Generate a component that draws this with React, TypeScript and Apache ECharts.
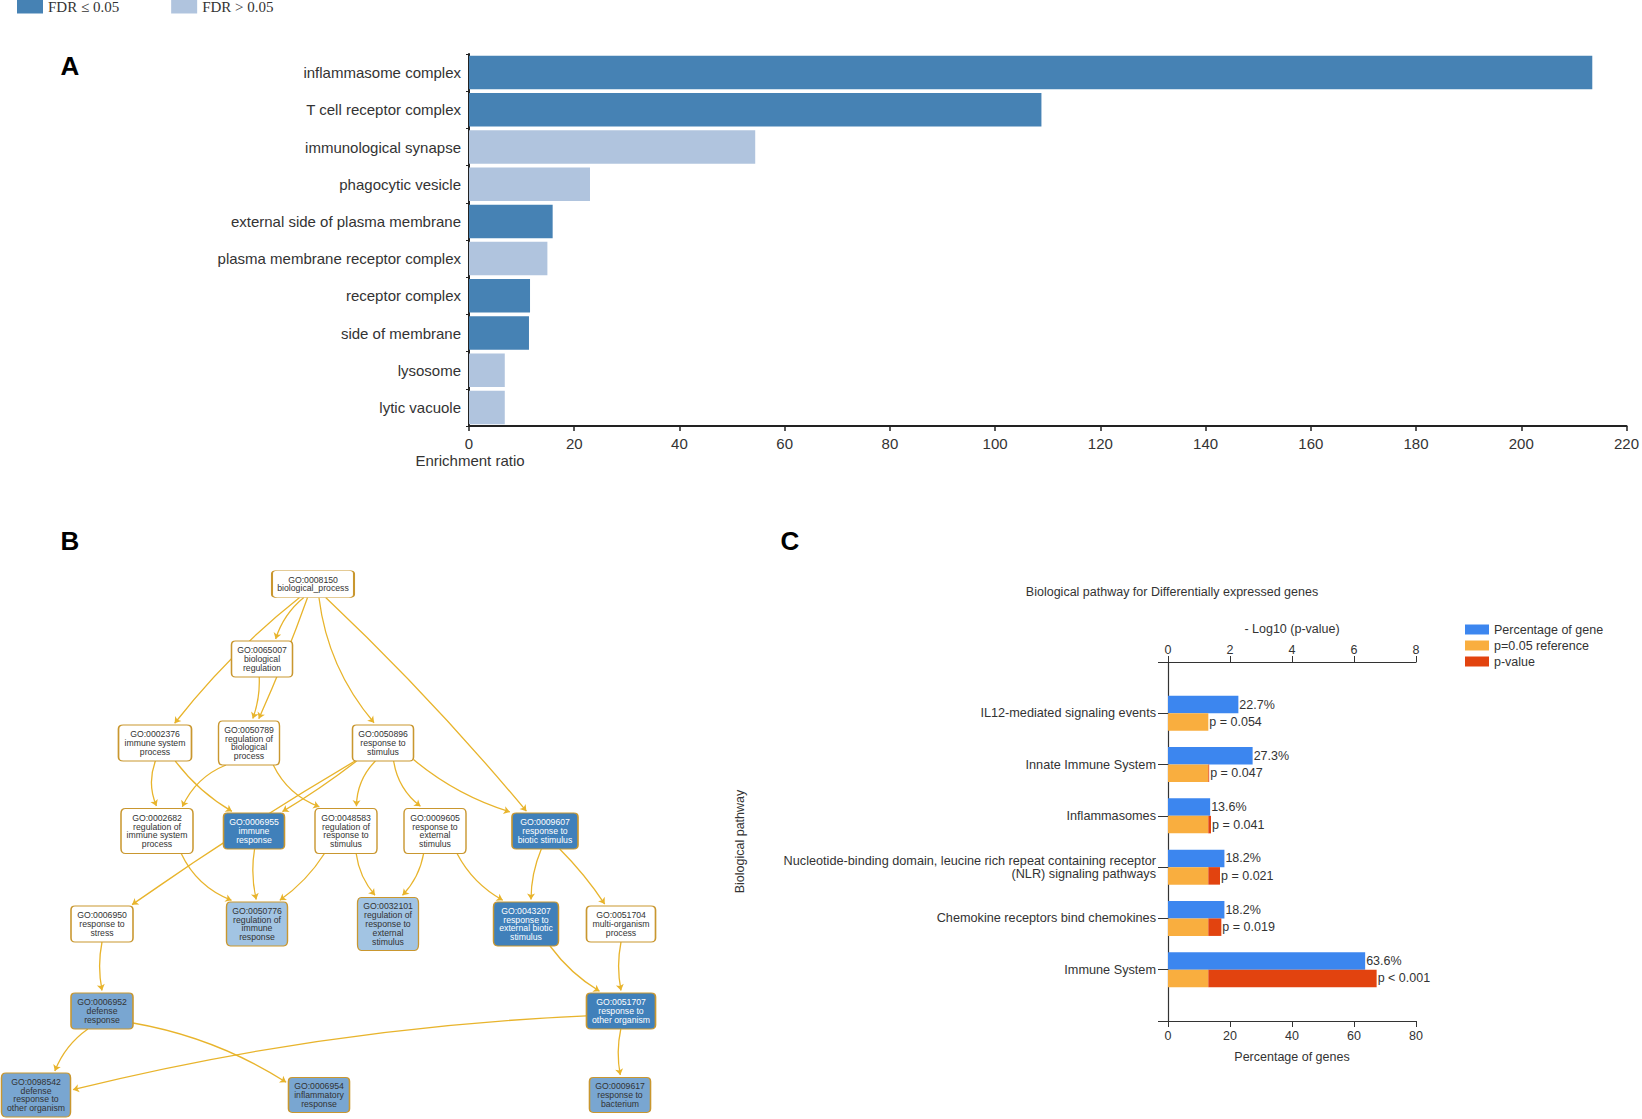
import React, { useEffect, useRef } from 'react';
import * as echarts from 'echarts';

// ---------------- Panel A data ----------------
const goTerms = [
  'inflammasome complex',
  'T cell receptor complex',
  'immunological synapse',
  'phagocytic vesicle',
  'external side of plasma membrane',
  'plasma membrane receptor complex',
  'receptor complex',
  'side of membrane',
  'lysosome',
  'lytic vacuole',
];
const enrichmentRatio = [213.5, 108.8, 54.4, 23.0, 15.9, 14.9, 11.6, 11.4, 6.8, 6.8];
const fdrSignificant = [true, true, false, false, true, false, true, true, false, false];
const enrichmentAxis = { min: 0, max: 220, interval: 20 };

// ---------------- Panel B data (GO DAG, layout units) ----------------
type GoNode = { id: string; label: string; x: number; y: number; w: number; h: number; kind: string };
const goNodes: GoNode[] = [
  { id: 'GO:0008150', label: 'biological_process', x: 313, y: 584, w: 82, h: 27, kind: 'none' },
  { id: 'GO:0065007', label: 'biological\nregulation', x: 262, y: 659, w: 61, h: 36, kind: 'none' },
  { id: 'GO:0002376', label: 'immune system\nprocess', x: 155, y: 743, w: 73, h: 36, kind: 'none' },
  { id: 'GO:0050789', label: 'regulation of\nbiological\nprocess', x: 249, y: 743, w: 61, h: 44, kind: 'none' },
  { id: 'GO:0050896', label: 'response to\nstimulus', x: 383, y: 743, w: 61, h: 36, kind: 'none' },
  { id: 'GO:0002682', label: 'regulation of\nimmune system\nprocess', x: 157, y: 831, w: 72, h: 45, kind: 'none' },
  { id: 'GO:0006955', label: 'immune\nresponse', x: 254, y: 831, w: 61, h: 36, kind: 'dark' },
  { id: 'GO:0048583', label: 'regulation of\nresponse to\nstimulus', x: 346, y: 831, w: 62, h: 45, kind: 'none' },
  { id: 'GO:0009605', label: 'response to\nexternal\nstimulus', x: 435, y: 831, w: 62, h: 45, kind: 'none' },
  { id: 'GO:0009607', label: 'response to\nbiotic stimulus', x: 545, y: 831, w: 66, h: 36, kind: 'dark' },
  { id: 'GO:0006950', label: 'response to\nstress', x: 102, y: 924, w: 62, h: 36, kind: 'none' },
  { id: 'GO:0050776', label: 'regulation of\nimmune\nresponse', x: 257, y: 924, w: 61, h: 44, kind: 'light' },
  { id: 'GO:0032101', label: 'regulation of\nresponse to\nexternal\nstimulus', x: 388, y: 924, w: 61, h: 53, kind: 'light' },
  { id: 'GO:0043207', label: 'response to\nexternal biotic\nstimulus', x: 526, y: 924, w: 65, h: 44, kind: 'dark' },
  { id: 'GO:0051704', label: 'multi-organism\nprocess', x: 621, y: 924, w: 69, h: 36, kind: 'none' },
  { id: 'GO:0006952', label: 'defense\nresponse', x: 102, y: 1011, w: 62, h: 36, kind: 'medium' },
  { id: 'GO:0051707', label: 'response to\nother organism', x: 621, y: 1011, w: 69, h: 36, kind: 'dark' },
  { id: 'GO:0098542', label: 'defense\nresponse to\nother organism', x: 36, y: 1095, w: 69, h: 44, kind: 'medium' },
  { id: 'GO:0006954', label: 'inflammatory\nresponse', x: 319, y: 1095, w: 61, h: 35, kind: 'medium' },
  { id: 'GO:0009617', label: 'response to\nbacterium', x: 620, y: 1095, w: 61, h: 35, kind: 'medium' },
];
// [source, target, curveness]
const goEdges: [string, string, number][] = [
  ['GO:0008150', 'GO:0065007', -0.15],
  ['GO:0008150', 'GO:0050789', 0.02],
  ['GO:0008150', 'GO:0002376', -0.06],
  ['GO:0008150', 'GO:0050896', -0.15],
  ['GO:0008150', 'GO:0009607', 0.03],
  ['GO:0065007', 'GO:0050789', 0.1],
  ['GO:0002376', 'GO:0002682', -0.2],
  ['GO:0002376', 'GO:0006955', -0.1],
  ['GO:0050789', 'GO:0002682', -0.2],
  ['GO:0050789', 'GO:0048583', -0.2],
  ['GO:0050896', 'GO:0006955', 0.03],
  ['GO:0050896', 'GO:0006950', -0.02],
  ['GO:0050896', 'GO:0048583', -0.2],
  ['GO:0050896', 'GO:0009605', -0.2],
  ['GO:0050896', 'GO:0009607', -0.1],
  ['GO:0002682', 'GO:0050776', -0.2],
  ['GO:0006955', 'GO:0050776', -0.1],
  ['GO:0048583', 'GO:0050776', 0.1],
  ['GO:0048583', 'GO:0032101', -0.15],
  ['GO:0009605', 'GO:0032101', 0.15],
  ['GO:0009605', 'GO:0043207', -0.15],
  ['GO:0009607', 'GO:0043207', -0.1],
  ['GO:0009607', 'GO:0051704', 0.05],
  ['GO:0043207', 'GO:0051707', -0.1],
  ['GO:0051704', 'GO:0051707', -0.1],
  ['GO:0006950', 'GO:0006952', -0.1],
  ['GO:0006952', 'GO:0098542', -0.15],
  ['GO:0006952', 'GO:0006954', 0.1],
  ['GO:0051707', 'GO:0098542', -0.05],
  ['GO:0051707', 'GO:0009617', -0.1],
];
const bLayoutX = [0, 660];
const bLayoutY = [560, 1119];

// ---------------- Panel C data ----------------
const pathways = [
  'IL12-mediated signaling events',
  'Innate Immune System',
  'Inflammasomes',
  'Nucleotide-binding domain, leucine rich repeat containing receptor\n(NLR) signaling pathways',
  'Chemokine receptors bind chemokines',
  'Immune System',
];
const geneRatioPct = [22.7, 27.3, 13.6, 18.2, 18.2, 63.6];
const negLog10P = [1.268, 1.328, 1.387, 1.678, 1.721, 6.73];
const pValueText = ['p = 0.054', 'p = 0.047', 'p = 0.041', 'p = 0.021', 'p = 0.019', 'p < 0.001'];
const refNegLog10 = 1.301;
const logAxis = { min: 0, max: 8, interval: 2 };
const pctAxis = { min: 0, max: 80, interval: 20 };

const SANS = "'Liberation Sans', Arial, sans-serif";
const NODE_FILL: Record<string, string> = { none: '#FFFFFF', light: '#A2C4E3', medium: '#79A6D1', dark: '#4080BA' };
const NODE_PATH = 'path://M4,0 H58 Q62,0 62,4 V32 Q62,36 58,36 H4 Q0,36 0,32 V4 Q0,0 4,0 Z';

function buildEdges() {
  const byId: Record<string, GoNode> = {};
  goNodes.forEach((n) => (byId[n.id] = n));
  return goEdges.map(([s, t, c]) => {
    const a = byId[s];
    const b = byId[t];
    const dx = b.x - a.x;
    const dy = b.y - a.y;
    const tOf = (n: GoNode) => Math.min(dx ? n.w / 2 / Math.abs(dx) : Infinity, dy ? n.h / 2 / Math.abs(dy) : Infinity);
    const ta = tOf(a);
    const tb = tOf(b);
    const len = Math.sqrt(dx * dx + dy * dy);
    const shrink = 2.5 / len;
    return {
      coords: [
        [a.x + dx * ta, a.y + dy * ta],
        [b.x - dx * (tb + shrink), b.y - dy * (tb + shrink)],
      ],
      lineStyle: { curveness: c },
    };
  });
}

export default function App() {
  const ref = useRef<HTMLDivElement>(null);
  useEffect(() => {
    document.body.style.margin = '0';
    const chart = echarts.init(ref.current!, null, { renderer: 'svg' });
    const pad = (arr: any[]) => ['-', ...arr, '-'];
    const option: any = {
      animation: false,
      backgroundColor: '#fff',
      textStyle: { fontFamily: SANS },
      legend: [
        {
          data: ['FDR ≤ 0.05', 'FDR > 0.05'],
          left: 17,
          top: -1,
          icon: 'rect',
          itemWidth: 26,
          itemHeight: 14,
          itemGap: 52,
          padding: 0,
          selectedMode: false,
          textStyle: { fontFamily: "'Liberation Serif', 'Times New Roman', serif", fontSize: 15, color: '#333' },
        },
        {
          data: ['Percentage of gene', 'p=0.05 reference', 'p-value'],
          orient: 'vertical',
          left: 1465,
          top: 623,
          icon: 'rect',
          itemWidth: 24,
          itemHeight: 10,
          itemGap: 3,
          padding: 0,
          selectedMode: false,
          textStyle: { fontFamily: SANS, fontSize: 12.5, color: '#333' },
        },
      ],
      grid: [
        { left: 469, top: 54, width: 1159, height: 372 },
        { left: 1168, top: 662, width: 248, height: 359 },
        { left: 0, top: 560, width: 660, height: 559 },
      ],
      xAxis: [
        {
          gridIndex: 0,
          type: 'value',
          ...enrichmentAxis,
          splitLine: { show: false },
          axisLine: { show: true, lineStyle: { color: '#222', width: 2 } },
          axisTick: { show: true, length: 5, lineStyle: { color: '#222', width: 1.5 } },
          axisLabel: { fontSize: 15, color: '#333', margin: 10, fontFamily: SANS },
        },
        {
          gridIndex: 1,
          type: 'value',
          position: 'top',
          ...logAxis,
          name: '- Log10 (p-value)',
          nameLocation: 'middle',
          nameGap: 27,
          nameTextStyle: { fontSize: 12.5, color: '#333', fontFamily: SANS },
          splitLine: { show: false },
          axisLine: { show: true, lineStyle: { color: '#333', width: 1.2 } },
          axisTick: { show: true, length: 6, lineStyle: { color: '#333' } },
          axisLabel: { fontSize: 12.5, color: '#333', margin: 6, fontFamily: SANS },
        },
        {
          gridIndex: 1,
          type: 'value',
          position: 'bottom',
          ...pctAxis,
          name: 'Percentage of genes',
          nameLocation: 'middle',
          nameGap: 29,
          nameTextStyle: { fontSize: 12.5, color: '#333', fontFamily: SANS },
          splitLine: { show: false },
          axisLine: { show: true, lineStyle: { color: '#333', width: 1.2 } },
          axisTick: { show: true, length: 6, lineStyle: { color: '#333' } },
          axisLabel: { fontSize: 12.5, color: '#333', margin: 8, fontFamily: SANS },
        },
        { gridIndex: 2, type: 'value', min: bLayoutX[0], max: bLayoutX[1], show: false },
      ],
      yAxis: [
        {
          gridIndex: 0,
          type: 'category',
          data: goTerms,
          inverse: true,
          axisLine: { show: true, lineStyle: { color: '#222', width: 2 } },
          axisTick: { show: true, length: 3, lineStyle: { color: '#222' } },
          axisLabel: { fontSize: 15, color: '#333', margin: 8, fontFamily: SANS },
        },
        {
          gridIndex: 1,
          type: 'category',
          data: pad(pathways).map((v) => (v === '-' ? '' : v)),
          inverse: true,
          boundaryGap: false,
          name: 'Biological pathway',
          nameLocation: 'middle',
          nameRotate: 90,
          nameGap: 422,
          nameTextStyle: { fontSize: 12.5, color: '#333', fontFamily: SANS },
          axisLine: { show: true, lineStyle: { color: '#333', width: 1.2 } },
          axisTick: { show: true, length: 10, lineStyle: { color: '#333' } },
          axisLabel: { fontSize: 12.7, color: '#333', margin: 12, fontFamily: SANS, lineHeight: 13 },
        },
        { gridIndex: 2, type: 'value', min: bLayoutY[0], max: bLayoutY[1], inverse: true, show: false },
      ],
      series: [
        {
          name: 'FDR ≤ 0.05',
          type: 'bar',
          xAxisIndex: 0,
          yAxisIndex: 0,
          stack: 'fdr',
          barCategoryGap: '10%',
          itemStyle: { color: '#4682B4' },
          data: enrichmentRatio.map((v, i) => (fdrSignificant[i] ? v : '-')),
        },
        {
          name: 'FDR > 0.05',
          type: 'bar',
          xAxisIndex: 0,
          yAxisIndex: 0,
          stack: 'fdr',
          barCategoryGap: '10%',
          itemStyle: { color: '#B0C4DE' },
          data: enrichmentRatio.map((v, i) => (fdrSignificant[i] ? '-' : v)),
        },
        {
          name: 'Percentage of gene',
          type: 'bar',
          xAxisIndex: 2,
          yAxisIndex: 1,
          barWidth: 17.5,
          barGap: '0%',
          itemStyle: { color: '#3C86EF' },
          label: {
            show: true,
            position: 'right',
            distance: 1,
            fontSize: 12.5,
            color: '#333',
            fontFamily: SANS,
            formatter: (p: any) => geneRatioPct[p.dataIndex - 1].toFixed(1) + '%',
          },
          data: pad(geneRatioPct),
        },
        {
          name: 'p=0.05 reference',
          type: 'bar',
          xAxisIndex: 1,
          yAxisIndex: 1,
          stack: 'p',
          barWidth: 17.5,
          barGap: '0%',
          itemStyle: { color: '#F9AE3F' },
          data: pad(pathways.map(() => refNegLog10)),
        },
        {
          name: 'p-value',
          type: 'bar',
          xAxisIndex: 1,
          yAxisIndex: 1,
          stack: 'p',
          barWidth: 17.5,
          barGap: '0%',
          itemStyle: { color: '#E2430F' },
          label: {
            show: true,
            position: 'right',
            distance: 1,
            fontSize: 12.5,
            color: '#333',
            fontFamily: SANS,
            formatter: (p: any) => pValueText[p.dataIndex - 1],
          },
          data: pad(negLog10P.map((v) => Math.max(0, +(v - refNegLog10).toFixed(3)))),
        },
        {
          name: 'go-edges',
          type: 'lines',
          coordinateSystem: 'cartesian2d',
          xAxisIndex: 3,
          yAxisIndex: 2,
          symbol: ['none', 'arrow'],
          symbolSize: 6,
          z: 2,
          lineStyle: { color: '#E8B42C', width: 1.3, opacity: 1 },
          data: buildEdges(),
        },
        {
          name: 'go-nodes',
          type: 'scatter',
          xAxisIndex: 3,
          yAxisIndex: 2,
          symbol: NODE_PATH,
          z: 3,
          data: goNodes.map((n) => ({
            value: [n.x, n.y],
            symbolSize: [n.w, n.h],
            itemStyle: { color: NODE_FILL[n.kind], borderColor: '#C9972F', borderWidth: 1.2, opacity: 1 },
            label: { color: n.kind === 'dark' ? '#FFFFFF' : '#333333' },
          })),
          label: {
            show: true,
            position: 'inside',
            fontSize: 8.7,
            lineHeight: 8.8,
            fontFamily: SANS,
            align: 'center',
            formatter: (p: any) => goNodes[p.dataIndex].id + '\n' + goNodes[p.dataIndex].label,
          },
        },
      ],
      graphic: [
        { type: 'text', x: 70, y: 66, style: { text: 'A', fontSize: 26, fontWeight: 'bold', fontFamily: SANS, fill: '#000', align: 'center', verticalAlign: 'middle' } },
        { type: 'text', x: 70, y: 541, style: { text: 'B', fontSize: 26, fontWeight: 'bold', fontFamily: SANS, fill: '#000', align: 'center', verticalAlign: 'middle' } },
        { type: 'text', x: 790, y: 541, style: { text: 'C', fontSize: 26, fontWeight: 'bold', fontFamily: SANS, fill: '#000', align: 'center', verticalAlign: 'middle' } },
        { type: 'text', x: 470, y: 460, style: { text: 'Enrichment ratio', fontSize: 15, fontFamily: SANS, fill: '#333', align: 'center', verticalAlign: 'middle' } },
        { type: 'text', x: 1172, y: 592, style: { text: 'Biological pathway for Differentially expressed genes', fontSize: 12.5, fontFamily: SANS, fill: '#333', align: 'center', verticalAlign: 'middle' } },
      ],
    };
    chart.setOption(option);
    return () => chart.dispose();
  }, []);
  return <div ref={ref} style={{ width: 1642, height: 1119 }} />;
}
